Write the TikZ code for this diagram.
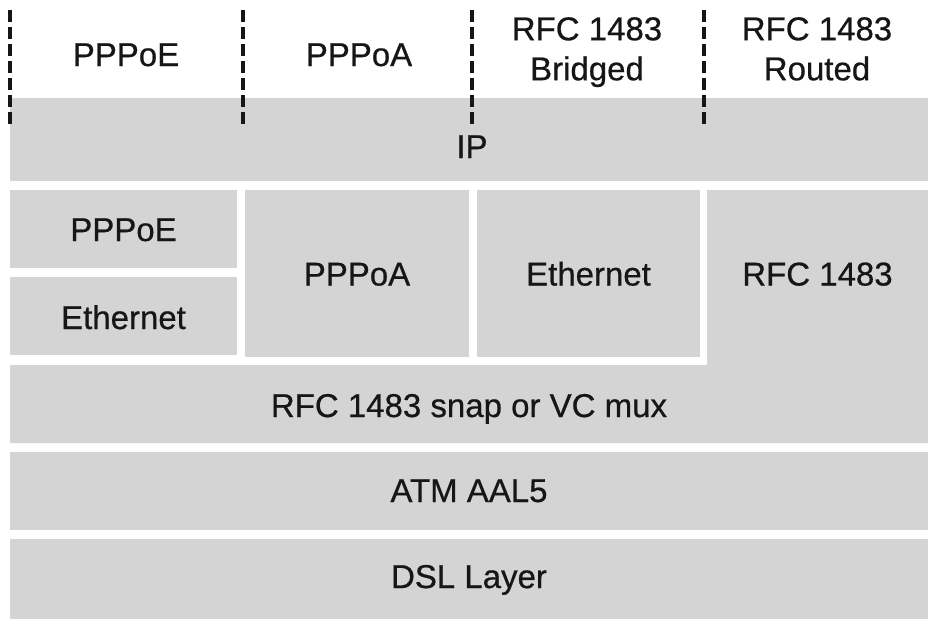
\documentclass[tikz,border=0pt]{standalone}
\usepackage{fontspec}
\setmainfont{Liberation Sans}
\newfontfamily\lblfont{Liberation Sans}[FakeBold=0.6]
\definecolor{layergray}{RGB}{212,212,212}
\definecolor{inkc}{RGB}{22,22,22}
\begin{document}
\begin{tikzpicture}[x=1pt,y=-1pt,
  box/.style={fill=layergray,draw=none,inner sep=0pt,outer sep=0pt},
  lbl/.style={text=inkc,font=\lblfont\fontsize{33}{40}\selectfont,inner sep=0pt,align=center},
  divider/.style={line width=3.6pt,draw=inkc,dash pattern=on 11.5pt off 5.5pt}]
\useasboundingbox[fill=white] (0,0) rectangle (928,619);
% IP band
\node[box,minimum width=918,minimum height=83] (ip) at (469,139.5) {};
\node[lbl,anchor=base] (iplbl) at (472,158) {IP};
% second row boxes
\node[box,minimum width=227,minimum height=78] (pppoe2) at (123.5,229) {};
\node[box,minimum width=227,minimum height=78] (eth1) at (123.5,316) {};
\node[box,minimum width=224,minimum height=167] (pppoa2) at (357,273.5) {};
\node[box,minimum width=223,minimum height=167] (eth2) at (588.5,273.5) {};
\node[lbl,anchor=base] (pppoe2t) at (123.5,241) {PPPoE};
\node[lbl,anchor=base] (eth1t) at (123.5,329) {Ethernet};
\node[lbl,anchor=base] (pppoa2t) at (357,285.5) {PPPoA};
\node[lbl,anchor=base] (eth2t) at (588.5,285.5) {Ethernet};
% L-shaped RFC 1483 + snap
\fill[layergray] (707,190) -- (928,190) -- (928,443) -- (10,443) -- (10,365) -- (707,365) -- cycle;
\node[lbl,anchor=base] (rfc) at (817.5,285.5) {RFC 1483};
\node[lbl,anchor=base] (snap) at (469,417) {RFC 1483 snap or VC mux};
% lower rows
\node[box,minimum width=918,minimum height=78] (atm) at (469,491) {};
\node[box,minimum width=918,minimum height=80] (dsl) at (469,579) {};
\node[lbl,anchor=base] (atmt) at (469,502) {ATM AAL5};
\node[lbl,anchor=base] (dslt) at (469,588) {DSL Layer};
% top labels
\node[lbl,anchor=base] (tpppoe) at (126,66) {PPPoE};
\node[lbl,anchor=base] (tpppoa) at (359,66) {PPPoA};
\node[lbl,anchor=north] (tbridged) at (587,17) {RFC 1483\\Bridged};
\node[lbl,anchor=north] (trouted) at (817,17) {RFC 1483\\Routed};
% dashed dividers
\coordinate (d1a) at (10,10);  \coordinate (d1b) at (10,127);
\coordinate (d2a) at (243,10); \coordinate (d2b) at (243,127);
\coordinate (d3a) at (472,10); \coordinate (d3b) at (472,127);
\coordinate (d4a) at (704,10); \coordinate (d4b) at (704,127);
\draw[divider] (d1a) -- (d1b);
\draw[divider] (d2a) -- (d2b);
\draw[divider] (d3a) -- (d3b);
\draw[divider] (d4a) -- (d4b);
\end{tikzpicture}
\end{document}
